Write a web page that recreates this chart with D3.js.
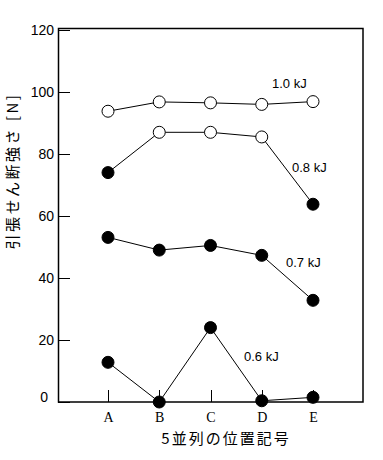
<!DOCTYPE html>
<meta charset="utf-8">
<style>
body { margin: 0; background: #fff; }
.axis line { stroke: #000; shape-rendering: crispEdges; }
.axis path { display: none; }
.y.axis text { font: 14px "Liberation Sans", sans-serif; fill: #000; }
.x.axis text { font: 14px "Liberation Serif", serif; fill: #000; }
.lbl { font: 13px "Liberation Sans", sans-serif; fill: #000; }
.jp { font-family: "Noto Sans CJK JP", sans-serif; fill: #000; }
</style>
<svg width="383" height="460"></svg>
<script src="https://d3js.org/d3.v7.min.js"></script>
<script>

var positions = ["A", "B", "C", "D", "E"];
var yTicks = [0, 20, 40, 60, 80, 100, 120];

// strength values [N] per energy
var s10 = [93.8, 96.8, 96.5, 96.0, 96.9];
var s08 = [74.0, 87.0, 87.0, 85.5, 63.8];
var s07 = [53.1, 49.0, 50.5, 47.3, 32.8];
var s06 = [12.8, 0.0, 24.0, 0.4, 1.5];

// open (true) / filled (false) marker per point
var open10 = [true, true, true, true, true];
var open08 = [false, true, true, true, false];
var open07 = [false, false, false, false, false];
var open06 = [false, false, false, false, false];

var energyLabels = ["1.0 kJ", "0.8 kJ", "0.7 kJ", "0.6 kJ"];

var svg = d3.select("svg"),
    margin = {top: 30, right: 21, bottom: 58, left: 58},
    width = +svg.attr("width") - margin.left - margin.right,
    height = +svg.attr("height") - margin.top - margin.bottom;

var x = d3.scalePoint()
    .domain(positions)
    .range([108 - margin.left, 313 - margin.left]);

var y = d3.scaleLinear()
    .domain([0, 120])
    .range([height, 0]);

var g = svg.append("g")
    .attr("transform", "translate(" + margin.left + "," + margin.top + ")");

// frame
g.append("rect")
    .attr("x", 0.5)
    .attr("y", -1.5)
    .attr("width", width + 0.5)
    .attr("height", height + 1.5)
    .attr("fill", "none")
    .attr("stroke", "#000")
    .attr("stroke-width", 1.5);

var yAxis = g.append("g")
    .attr("class", "y axis")
    .call(d3.axisLeft(y).tickValues(yTicks).tickSize(-12).tickPadding(4));

// the zero label sits a bit higher and further left
yAxis.selectAll(".tick")
    .filter(function(d) { return d === 0; })
    .select("text")
    .attr("x", -10)
    .attr("dy", "-0.05em");

var xAxis = g.append("g")
    .attr("class", "x axis")
    .attr("transform", "translate(0," + height + ")")
    .call(d3.axisBottom(x).tickSize(-12).tickPadding(10));

var series = [
  {values: s10, open: open10, label: energyLabels[0], lx: 272, ly: 88},
  {values: s08, open: open08, label: energyLabels[1], lx: 292, ly: 172},
  {values: s07, open: open07, label: energyLabels[2], lx: 286, ly: 267},
  {values: s06, open: open06, label: energyLabels[3], lx: 244, ly: 361}
];

var line = d3.line()
    .x(function(d, i) { return x(positions[i]); })
    .y(function(d) { return y(d); });

series.forEach(function(s) {
  g.append("path")
      .datum(s.values)
      .attr("d", line)
      .attr("fill", "none")
      .attr("stroke", "#000")
      .attr("stroke-width", 1);

  g.selectAll(null)
      .data(s.values)
      .enter().append("circle")
      .attr("cx", function(d, i) { return x(positions[i]); })
      .attr("cy", function(d) { return y(d); })
      .attr("r", 6)
      .attr("fill", function(d, i) { return s.open[i] ? "#fff" : "#000"; })
      .attr("stroke", "#000")
      .attr("stroke-width", 1);

  svg.append("text")
      .attr("class", "lbl")
      .attr("x", s.lx)
      .attr("y", s.ly)
      .text(s.label);
});

// axis titles
svg.append("text")
    .attr("class", "jp")
    .attr("transform", "translate(18,171) rotate(-90)")
    .attr("text-anchor", "middle")
    .style("font-size", "15px")
    .style("letter-spacing", "2.5px")
    .text("引張せん断強さ [N]");

svg.append("text")
    .attr("class", "jp")
    .attr("x", 226)
    .attr("y", 444)
    .attr("text-anchor", "middle")
    .style("font-size", "15px")
    .style("letter-spacing", "2px")
    .text("5並列の位置記号");

</script>
